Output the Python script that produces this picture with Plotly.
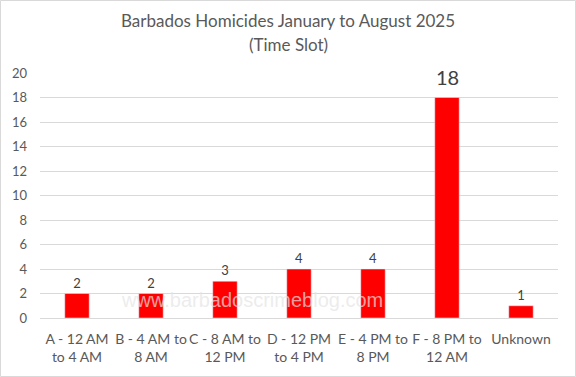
import plotly.graph_objects as go

categories = ["A - 12 AM<br>to 4 AM", "B - 4 AM to<br>8 AM", "C - 8 AM to<br>12 PM",
              "D - 12 PM<br>to 4 PM", "E - 4 PM to<br>8 PM", "F - 8 PM to<br>12 AM", "Unknown"]
values = [2, 2, 3, 4, 4, 18, 1]
y_ticks = [0, 2, 4, 6, 8, 10, 12, 14, 16, 18, 20]
title_lines = ["Barbados Homicides January to August 2025", "(Time Slot)"]

W, H = 576, 377
L, R, T, B = 40, 18, 73, 59
pw, ph = W - L - R, H - T - B


def py(pix):
    return (H - B - pix) / ph


peak = values.index(max(values))
labels = ["" if i == peak else str(v) for i, v in enumerate(values)]

fig = go.Figure()
fig.add_trace(go.Bar(
    x=categories, y=values, marker_color="#ff0000", width=0.33,
    text=labels, textposition="outside", cliponaxis=False,
    textfont=dict(size=13, color="#404040", family="Lato"),
))

fig.update_layout(
    width=W, height=H, margin=dict(l=L, r=R, t=T, b=B),
    paper_bgcolor="white", plot_bgcolor="white",
    font=dict(family="Lato", color="#595959", size=13),
    showlegend=False,
    xaxis=dict(showgrid=False, showline=True, linecolor="#d9d9d9", linewidth=1,
               ticks="", ticklabelstandoff=8, tickfont=dict(size=14, color="#595959")),
    yaxis=dict(range=[0, 20], tickvals=y_ticks, showgrid=True, gridcolor="#d9d9d9",
               zeroline=False, showline=False, ticks="", ticklabelstandoff=12,
               tickfont=dict(size=13, color="#595959")),
)

# large data label on the peak bar
fig.add_annotation(text=str(values[peak]), x=categories[peak], y=values[peak],
                   xanchor="center", yanchor="bottom", yshift=7, showarrow=False,
                   font=dict(size=20, color="#404040", family="Lato"))

for txt, ypix in zip(title_lines, [20, 45]):
    fig.add_annotation(text=txt, xref="paper", yref="paper", x=(288 - L) / pw, y=py(ypix),
                       xanchor="center", yanchor="middle", showarrow=False,
                       font=dict(size=17, color="#595959", family="Lato"))

fig.add_annotation(text="www.barbadoscrimeblog.com", xref="paper", yref="paper",
                   x=(252 - L) / pw, y=py(300), xanchor="center", yanchor="middle", showarrow=False,
                   font=dict(size=20, color="rgba(228,228,228,0.7)", family="Liberation Sans"))

fig.add_shape(type="rect", xref="paper", yref="paper",
              x0=-(L - 0.5) / pw, x1=1 + (R - 0.5) / pw,
              y0=-(B - 0.5) / ph, y1=1 + (T - 0.5) / ph,
              line=dict(color="#d9d9d9", width=1))

fig.write_html("out.html")
